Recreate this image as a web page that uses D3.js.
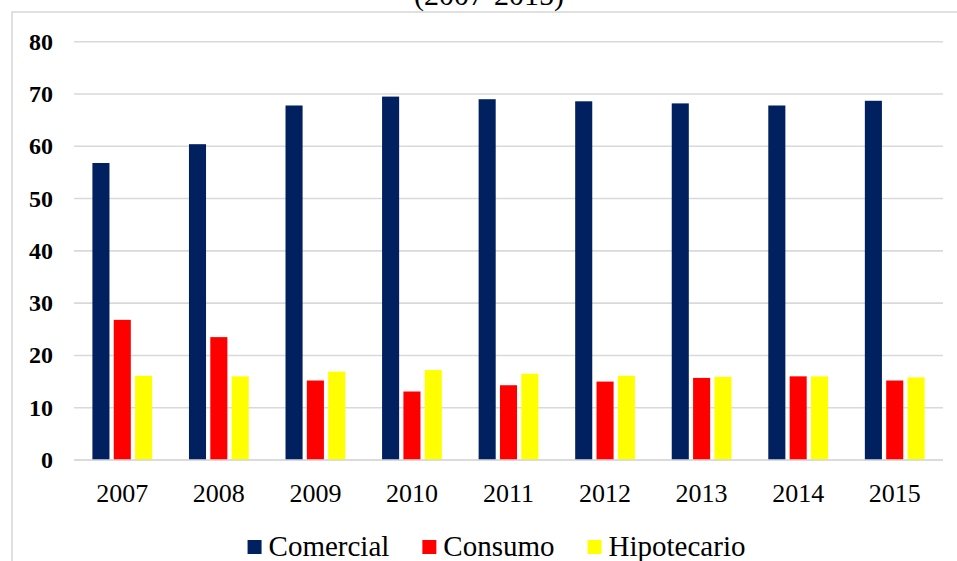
<!DOCTYPE html>
<html>
<head>
<meta charset="utf-8">
<script src="https://cdn.jsdelivr.net/npm/d3@7"></script>
<style>
  html, body { margin: 0; padding: 0; background: #fff; }
  svg { display: block; }
</style>
</head>
<body>
<svg id="chart" width="957" height="561"></svg>
<script>
const years = ["2007","2008","2009","2010","2011","2012","2013","2014","2015"];
const seriesNames = ["Comercial","Consumo","Hipotecario"];
const comercial   = [56.8, 60.4, 67.8, 69.5, 69.0, 68.6, 68.2, 67.8, 68.7];
const consumo     = [26.8, 23.5, 15.2, 13.1, 14.3, 15.0, 15.7, 16.0, 15.2];
const hipotecario = [16.1, 16.0, 16.9, 17.2, 16.5, 16.1, 15.9, 16.0, 15.8];
const yTicks = [0, 10, 20, 30, 40, 50, 60, 70, 80];
const colors = ["#002060", "#FF0000", "#FFFF00"];
const titleText = "(2007-2015)";

(function () {
const seriesValues = [comercial, consumo, hipotecario];
const FONT = '"Liberation Serif"';

const svg = d3.select("#chart");

// chart area border (extends past right/bottom edges)
svg.append("rect")
  .attr("x", 12).attr("y", 12)
  .attr("width", 1000).attr("height", 600)
  .attr("fill", "none")
  .attr("stroke", "#d9d9d9")
  .attr("stroke-width", 1.6);

// title (mostly cut off at top, as in the reference)
svg.append("text")
  .attr("x", 489).attr("y", 5)
  .attr("text-anchor", "middle")
  .style("font-family", FONT)
  .style("font-size", "30px")
  .attr("fill", "#000")
  .text(titleText);

const plotLeft = 74, plotRight = 943, plotTop = 41.7, plotBottom = 460;

const x0 = d3.scaleBand()
  .domain(years)
  .range([plotLeft, plotRight])
  .paddingInner(0.337)
  .paddingOuter(0.1685);

const x1 = d3.scaleBand()
  .domain(seriesNames)
  .range([0, x0.bandwidth()])
  .paddingInner(0.2)
  .paddingOuter(0.1);

const y = d3.scaleLinear().domain([0, 80]).range([plotBottom, plotTop]);

// gridlines
svg.append("g")
  .selectAll("line")
  .data(yTicks)
  .join("line")
  .attr("x1", plotLeft).attr("x2", plotRight)
  .attr("y1", d => y(d)).attr("y2", d => y(d))
  .attr("stroke", "#d9d9d9")
  .attr("stroke-width", 1.6);

// y tick labels
svg.append("g")
  .selectAll("text")
  .data(yTicks)
  .join("text")
  .attr("x", 53)
  .attr("y", d => y(d) + 8)
  .attr("text-anchor", "end")
  .style("font-family", FONT)
  .style("font-weight", "bold")
  .style("font-size", "24px")
  .attr("fill", "#000")
  .text(d => d);

// bars
const data = [];
years.forEach((yr, i) => {
  seriesNames.forEach((s, j) => {
    data.push({ year: yr, series: s, value: seriesValues[j][i], color: colors[j] });
  });
});

svg.append("g")
  .selectAll("rect")
  .data(data)
  .join("rect")
  .attr("x", d => x0(d.year) + x1(d.series))
  .attr("y", d => y(d.value))
  .attr("width", x1.bandwidth())
  .attr("height", d => y(0) - y(d.value))
  .attr("fill", d => d.color);

// baseline axis line on top
svg.append("line")
  .attr("x1", plotLeft).attr("x2", plotRight)
  .attr("y1", y(0)).attr("y2", y(0))
  .attr("stroke", "#d9d9d9")
  .attr("stroke-width", 1.6);

// x labels
svg.append("g")
  .selectAll("text")
  .data(years)
  .join("text")
  .attr("x", d => x0(d) + x0.bandwidth() / 2)
  .attr("y", 502)
  .attr("text-anchor", "middle")
  .style("font-family", FONT)
  .style("font-size", "26px")
  .attr("fill", "#000")
  .text(d => d);

// legend
const legend = svg.append("g");
const sq = 14, gapText = 7, gapItem = 33, legendY = 556;
const items = seriesNames.map((s, i) => {
  const g = legend.append("g");
  g.append("rect").attr("width", sq).attr("height", sq)
    .attr("y", legendY - 16).attr("fill", colors[i]);
  const t = g.append("text")
    .attr("x", sq + gapText)
    .attr("y", legendY)
    .style("font-family", FONT)
    .style("font-size", "29px")
    .attr("fill", "#000")
    .text(s);
  return { g, w: sq + gapText + t.node().getComputedTextLength() };
});
const total = d3.sum(items, d => d.w) + gapItem * (items.length - 1);
let cx = 496.5 - total / 2;
items.forEach(it => {
  it.g.attr("transform", `translate(${cx},0)`);
  cx += it.w + gapItem;
});
})();
</script>
</body>
</html>
